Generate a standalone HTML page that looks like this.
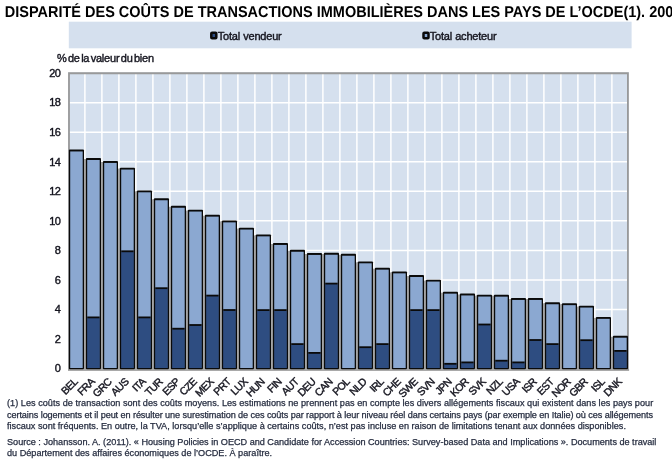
<!DOCTYPE html>
<html><head><meta charset="utf-8"><title>Chart</title>
<style>
html,body{margin:0;padding:0;background:#fff;}
body{width:672px;height:465px;overflow:hidden;position:relative;font-family:"Liberation Sans",sans-serif;color:#000;}
h1{position:absolute;left:4.8px;top:3.9px;margin:0;font-size:14.49px;line-height:16px;font-weight:bold;white-space:nowrap;letter-spacing:0;text-rendering:geometricPrecision;transform:scaleY(1.08);transform-origin:0 0;}
svg{position:absolute;left:0;top:0;}
.ax,.xl,.lg{font-family:"Liberation Sans",sans-serif;fill:#15151f;stroke:#15151f;stroke-width:0.4px;}
.ax{font-size:11px;letter-spacing:-0.8px;}
.xl{font-size:10.5px;letter-spacing:-0.6px;}
.lg{font-size:11px;letter-spacing:-0.12px;word-spacing:-1.5px;}
.note{position:absolute;left:7px;font-size:9.15px;line-height:12px;height:12px;white-space:nowrap;color:#262d40;-webkit-text-stroke:0.25px #262d40;}
</style></head><body>
<h1>DISPARITÉ DES COÛTS DE TRANSACTIONS IMMOBILIÈRES DANS LES PAYS DE L’OCDE(1). 2009</h1>
<svg width="672" height="465" viewBox="0 0 672 465">
<rect x="68.8" y="21.7" width="562.8" height="26.6" fill="#d5e0ee"/>
<rect x="68" y="72.3" width="561" height="296.2" fill="#d5e0ee"/>
<line x1="84.90" y1="73.25" x2="84.90" y2="368.5" stroke="#fff" stroke-width="1.5"/>
<line x1="101.90" y1="73.25" x2="101.90" y2="368.5" stroke="#fff" stroke-width="1.5"/>
<line x1="118.90" y1="73.25" x2="118.90" y2="368.5" stroke="#fff" stroke-width="1.5"/>
<line x1="135.90" y1="73.25" x2="135.90" y2="368.5" stroke="#fff" stroke-width="1.5"/>
<line x1="152.90" y1="73.25" x2="152.90" y2="368.5" stroke="#fff" stroke-width="1.5"/>
<line x1="169.90" y1="73.25" x2="169.90" y2="368.5" stroke="#fff" stroke-width="1.5"/>
<line x1="186.90" y1="73.25" x2="186.90" y2="368.5" stroke="#fff" stroke-width="1.5"/>
<line x1="203.90" y1="73.25" x2="203.90" y2="368.5" stroke="#fff" stroke-width="1.5"/>
<line x1="220.90" y1="73.25" x2="220.90" y2="368.5" stroke="#fff" stroke-width="1.5"/>
<line x1="237.90" y1="73.25" x2="237.90" y2="368.5" stroke="#fff" stroke-width="1.5"/>
<line x1="254.90" y1="73.25" x2="254.90" y2="368.5" stroke="#fff" stroke-width="1.5"/>
<line x1="271.90" y1="73.25" x2="271.90" y2="368.5" stroke="#fff" stroke-width="1.5"/>
<line x1="288.90" y1="73.25" x2="288.90" y2="368.5" stroke="#fff" stroke-width="1.5"/>
<line x1="305.90" y1="73.25" x2="305.90" y2="368.5" stroke="#fff" stroke-width="1.5"/>
<line x1="322.90" y1="73.25" x2="322.90" y2="368.5" stroke="#fff" stroke-width="1.5"/>
<line x1="339.90" y1="73.25" x2="339.90" y2="368.5" stroke="#fff" stroke-width="1.5"/>
<line x1="356.90" y1="73.25" x2="356.90" y2="368.5" stroke="#fff" stroke-width="1.5"/>
<line x1="373.90" y1="73.25" x2="373.90" y2="368.5" stroke="#fff" stroke-width="1.5"/>
<line x1="390.90" y1="73.25" x2="390.90" y2="368.5" stroke="#fff" stroke-width="1.5"/>
<line x1="407.90" y1="73.25" x2="407.90" y2="368.5" stroke="#fff" stroke-width="1.5"/>
<line x1="424.90" y1="73.25" x2="424.90" y2="368.5" stroke="#fff" stroke-width="1.5"/>
<line x1="441.90" y1="73.25" x2="441.90" y2="368.5" stroke="#fff" stroke-width="1.5"/>
<line x1="458.90" y1="73.25" x2="458.90" y2="368.5" stroke="#fff" stroke-width="1.5"/>
<line x1="475.90" y1="73.25" x2="475.90" y2="368.5" stroke="#fff" stroke-width="1.5"/>
<line x1="492.90" y1="73.25" x2="492.90" y2="368.5" stroke="#fff" stroke-width="1.5"/>
<line x1="509.90" y1="73.25" x2="509.90" y2="368.5" stroke="#fff" stroke-width="1.5"/>
<line x1="526.90" y1="73.25" x2="526.90" y2="368.5" stroke="#fff" stroke-width="1.5"/>
<line x1="543.90" y1="73.25" x2="543.90" y2="368.5" stroke="#fff" stroke-width="1.5"/>
<line x1="560.90" y1="73.25" x2="560.90" y2="368.5" stroke="#fff" stroke-width="1.5"/>
<line x1="577.90" y1="73.25" x2="577.90" y2="368.5" stroke="#fff" stroke-width="1.5"/>
<line x1="594.90" y1="73.25" x2="594.90" y2="368.5" stroke="#fff" stroke-width="1.5"/>
<line x1="611.90" y1="73.25" x2="611.90" y2="368.5" stroke="#fff" stroke-width="1.5"/>
<line x1="69.0" y1="339.05" x2="627.9" y2="339.05" stroke="#fff" stroke-width="1.5"/>
<line x1="69.0" y1="309.50" x2="627.9" y2="309.50" stroke="#fff" stroke-width="1.5"/>
<line x1="69.0" y1="279.95" x2="627.9" y2="279.95" stroke="#fff" stroke-width="1.5"/>
<line x1="69.0" y1="250.40" x2="627.9" y2="250.40" stroke="#fff" stroke-width="1.5"/>
<line x1="69.0" y1="220.85" x2="627.9" y2="220.85" stroke="#fff" stroke-width="1.5"/>
<line x1="69.0" y1="191.30" x2="627.9" y2="191.30" stroke="#fff" stroke-width="1.5"/>
<line x1="69.0" y1="161.75" x2="627.9" y2="161.75" stroke="#fff" stroke-width="1.5"/>
<line x1="69.0" y1="132.20" x2="627.9" y2="132.20" stroke="#fff" stroke-width="1.5"/>
<line x1="69.0" y1="102.65" x2="627.9" y2="102.65" stroke="#fff" stroke-width="1.5"/>
<path d="M69.0 369.5 V73.25 H627.9 V369.5" fill="none" stroke="#999" stroke-width="1.8"/>
<line x1="68" y1="369.9" x2="629.1" y2="369.9" stroke="#8c8c8c" stroke-width="1.5"/>
<line x1="84.95" y1="159.05" x2="84.95" y2="369.1" stroke="#a4a4a4" stroke-width="2.2"/>
<line x1="101.95" y1="162.00" x2="101.95" y2="369.1" stroke="#a4a4a4" stroke-width="2.2"/>
<line x1="118.95" y1="168.60" x2="118.95" y2="369.1" stroke="#a4a4a4" stroke-width="2.2"/>
<line x1="135.95" y1="191.35" x2="135.95" y2="369.1" stroke="#a4a4a4" stroke-width="2.2"/>
<line x1="152.95" y1="199.30" x2="152.95" y2="369.1" stroke="#a4a4a4" stroke-width="2.2"/>
<line x1="169.95" y1="206.80" x2="169.95" y2="369.1" stroke="#a4a4a4" stroke-width="2.2"/>
<line x1="186.95" y1="210.60" x2="186.95" y2="369.1" stroke="#a4a4a4" stroke-width="2.2"/>
<line x1="203.95" y1="215.70" x2="203.95" y2="369.1" stroke="#a4a4a4" stroke-width="2.2"/>
<line x1="220.95" y1="221.40" x2="220.95" y2="369.1" stroke="#a4a4a4" stroke-width="2.2"/>
<line x1="237.95" y1="228.60" x2="237.95" y2="369.1" stroke="#a4a4a4" stroke-width="2.2"/>
<line x1="254.95" y1="235.40" x2="254.95" y2="369.1" stroke="#a4a4a4" stroke-width="2.2"/>
<line x1="271.95" y1="244.00" x2="271.95" y2="369.1" stroke="#a4a4a4" stroke-width="2.2"/>
<line x1="288.95" y1="250.80" x2="288.95" y2="369.1" stroke="#a4a4a4" stroke-width="2.2"/>
<line x1="305.95" y1="254.00" x2="305.95" y2="369.1" stroke="#a4a4a4" stroke-width="2.2"/>
<line x1="322.95" y1="254.00" x2="322.95" y2="369.1" stroke="#a4a4a4" stroke-width="2.2"/>
<line x1="339.95" y1="254.80" x2="339.95" y2="369.1" stroke="#a4a4a4" stroke-width="2.2"/>
<line x1="356.95" y1="262.35" x2="356.95" y2="369.1" stroke="#a4a4a4" stroke-width="2.2"/>
<line x1="373.95" y1="268.70" x2="373.95" y2="369.1" stroke="#a4a4a4" stroke-width="2.2"/>
<line x1="390.95" y1="272.40" x2="390.95" y2="369.1" stroke="#a4a4a4" stroke-width="2.2"/>
<line x1="407.95" y1="276.05" x2="407.95" y2="369.1" stroke="#a4a4a4" stroke-width="2.2"/>
<line x1="424.95" y1="280.60" x2="424.95" y2="369.1" stroke="#a4a4a4" stroke-width="2.2"/>
<line x1="441.95" y1="292.70" x2="441.95" y2="369.1" stroke="#a4a4a4" stroke-width="2.2"/>
<line x1="458.95" y1="294.50" x2="458.95" y2="369.1" stroke="#a4a4a4" stroke-width="2.2"/>
<line x1="475.95" y1="295.60" x2="475.95" y2="369.1" stroke="#a4a4a4" stroke-width="2.2"/>
<line x1="492.95" y1="295.70" x2="492.95" y2="369.1" stroke="#a4a4a4" stroke-width="2.2"/>
<line x1="509.95" y1="299.00" x2="509.95" y2="369.1" stroke="#a4a4a4" stroke-width="2.2"/>
<line x1="526.95" y1="299.00" x2="526.95" y2="369.1" stroke="#a4a4a4" stroke-width="2.2"/>
<line x1="543.95" y1="303.30" x2="543.95" y2="369.1" stroke="#a4a4a4" stroke-width="2.2"/>
<line x1="560.95" y1="304.20" x2="560.95" y2="369.1" stroke="#a4a4a4" stroke-width="2.2"/>
<line x1="577.95" y1="306.60" x2="577.95" y2="369.1" stroke="#a4a4a4" stroke-width="2.2"/>
<line x1="594.95" y1="317.90" x2="594.95" y2="369.1" stroke="#a4a4a4" stroke-width="2.2"/>
<line x1="611.95" y1="336.75" x2="611.95" y2="369.1" stroke="#a4a4a4" stroke-width="2.2"/>
<rect x="68.90" y="149.55" width="15.10" height="219.65" rx="0.9" fill="#0a0a0a"/>
<rect x="70.20" y="151.45" width="12.50" height="216.55" fill="#8ba8d1"/>
<rect x="85.90" y="158.10" width="15.10" height="211.10" rx="0.9" fill="#0a0a0a"/>
<rect x="87.20" y="160.00" width="12.50" height="208.00" fill="#8ba8d1"/>
<rect x="87.20" y="316.50" width="12.50" height="51.50" fill="#0a0a0a"/>
<rect x="87.20" y="318.30" width="12.50" height="49.70" fill="#2e4d81"/>
<rect x="102.90" y="161.05" width="15.10" height="208.15" rx="0.9" fill="#0a0a0a"/>
<rect x="104.20" y="162.95" width="12.50" height="205.05" fill="#8ba8d1"/>
<rect x="119.90" y="167.65" width="15.10" height="201.55" rx="0.9" fill="#0a0a0a"/>
<rect x="121.20" y="169.55" width="12.50" height="198.45" fill="#8ba8d1"/>
<rect x="121.20" y="250.40" width="12.50" height="117.60" fill="#0a0a0a"/>
<rect x="121.20" y="252.20" width="12.50" height="115.80" fill="#2e4d81"/>
<rect x="136.90" y="190.40" width="15.10" height="178.80" rx="0.9" fill="#0a0a0a"/>
<rect x="138.20" y="192.30" width="12.50" height="175.70" fill="#8ba8d1"/>
<rect x="138.20" y="316.50" width="12.50" height="51.50" fill="#0a0a0a"/>
<rect x="138.20" y="318.30" width="12.50" height="49.70" fill="#2e4d81"/>
<rect x="153.90" y="198.35" width="15.10" height="170.85" rx="0.9" fill="#0a0a0a"/>
<rect x="155.20" y="200.25" width="12.50" height="167.75" fill="#8ba8d1"/>
<rect x="155.20" y="287.30" width="12.50" height="80.70" fill="#0a0a0a"/>
<rect x="155.20" y="289.10" width="12.50" height="78.90" fill="#2e4d81"/>
<rect x="170.90" y="205.85" width="15.10" height="163.35" rx="0.9" fill="#0a0a0a"/>
<rect x="172.20" y="207.75" width="12.50" height="160.25" fill="#8ba8d1"/>
<rect x="172.20" y="327.80" width="12.50" height="40.20" fill="#0a0a0a"/>
<rect x="172.20" y="329.60" width="12.50" height="38.40" fill="#2e4d81"/>
<rect x="187.90" y="209.65" width="15.10" height="159.55" rx="0.9" fill="#0a0a0a"/>
<rect x="189.20" y="211.55" width="12.50" height="156.45" fill="#8ba8d1"/>
<rect x="189.20" y="324.10" width="12.50" height="43.90" fill="#0a0a0a"/>
<rect x="189.20" y="325.90" width="12.50" height="42.10" fill="#2e4d81"/>
<rect x="204.90" y="214.75" width="15.10" height="154.45" rx="0.9" fill="#0a0a0a"/>
<rect x="206.20" y="216.65" width="12.50" height="151.35" fill="#8ba8d1"/>
<rect x="206.20" y="294.70" width="12.50" height="73.30" fill="#0a0a0a"/>
<rect x="206.20" y="296.50" width="12.50" height="71.50" fill="#2e4d81"/>
<rect x="221.90" y="220.45" width="15.10" height="148.75" rx="0.9" fill="#0a0a0a"/>
<rect x="223.20" y="222.35" width="12.50" height="145.65" fill="#8ba8d1"/>
<rect x="223.20" y="309.10" width="12.50" height="58.90" fill="#0a0a0a"/>
<rect x="223.20" y="310.90" width="12.50" height="57.10" fill="#2e4d81"/>
<rect x="238.90" y="227.65" width="15.10" height="141.55" rx="0.9" fill="#0a0a0a"/>
<rect x="240.20" y="229.55" width="12.50" height="138.45" fill="#8ba8d1"/>
<rect x="255.90" y="234.45" width="15.10" height="134.75" rx="0.9" fill="#0a0a0a"/>
<rect x="257.20" y="236.35" width="12.50" height="131.65" fill="#8ba8d1"/>
<rect x="257.20" y="309.20" width="12.50" height="58.80" fill="#0a0a0a"/>
<rect x="257.20" y="311.00" width="12.50" height="57.00" fill="#2e4d81"/>
<rect x="272.90" y="243.05" width="15.10" height="126.15" rx="0.9" fill="#0a0a0a"/>
<rect x="274.20" y="244.95" width="12.50" height="123.05" fill="#8ba8d1"/>
<rect x="274.20" y="309.20" width="12.50" height="58.80" fill="#0a0a0a"/>
<rect x="274.20" y="311.00" width="12.50" height="57.00" fill="#2e4d81"/>
<rect x="289.90" y="249.85" width="15.10" height="119.35" rx="0.9" fill="#0a0a0a"/>
<rect x="291.20" y="251.75" width="12.50" height="116.25" fill="#8ba8d1"/>
<rect x="291.20" y="343.20" width="12.50" height="24.80" fill="#0a0a0a"/>
<rect x="291.20" y="345.00" width="12.50" height="23.00" fill="#2e4d81"/>
<rect x="306.90" y="253.05" width="15.10" height="116.15" rx="0.9" fill="#0a0a0a"/>
<rect x="308.20" y="254.95" width="12.50" height="113.05" fill="#8ba8d1"/>
<rect x="308.20" y="352.00" width="12.50" height="16.00" fill="#0a0a0a"/>
<rect x="308.20" y="353.80" width="12.50" height="14.20" fill="#2e4d81"/>
<rect x="323.90" y="252.85" width="15.10" height="116.35" rx="0.9" fill="#0a0a0a"/>
<rect x="325.20" y="254.75" width="12.50" height="113.25" fill="#8ba8d1"/>
<rect x="325.20" y="282.70" width="12.50" height="85.30" fill="#0a0a0a"/>
<rect x="325.20" y="284.50" width="12.50" height="83.50" fill="#2e4d81"/>
<rect x="340.90" y="253.85" width="15.10" height="115.35" rx="0.9" fill="#0a0a0a"/>
<rect x="342.20" y="255.75" width="12.50" height="112.25" fill="#8ba8d1"/>
<rect x="357.90" y="261.40" width="15.10" height="107.80" rx="0.9" fill="#0a0a0a"/>
<rect x="359.20" y="263.30" width="12.50" height="104.70" fill="#8ba8d1"/>
<rect x="359.20" y="346.30" width="12.50" height="21.70" fill="#0a0a0a"/>
<rect x="359.20" y="348.10" width="12.50" height="19.90" fill="#2e4d81"/>
<rect x="374.90" y="267.75" width="15.10" height="101.45" rx="0.9" fill="#0a0a0a"/>
<rect x="376.20" y="269.65" width="12.50" height="98.35" fill="#8ba8d1"/>
<rect x="376.20" y="343.20" width="12.50" height="24.80" fill="#0a0a0a"/>
<rect x="376.20" y="345.00" width="12.50" height="23.00" fill="#2e4d81"/>
<rect x="391.90" y="271.45" width="15.10" height="97.75" rx="0.9" fill="#0a0a0a"/>
<rect x="393.20" y="273.35" width="12.50" height="94.65" fill="#8ba8d1"/>
<rect x="408.90" y="275.10" width="15.10" height="94.10" rx="0.9" fill="#0a0a0a"/>
<rect x="410.20" y="277.00" width="12.50" height="91.00" fill="#8ba8d1"/>
<rect x="410.20" y="309.20" width="12.50" height="58.80" fill="#0a0a0a"/>
<rect x="410.20" y="311.00" width="12.50" height="57.00" fill="#2e4d81"/>
<rect x="425.90" y="279.65" width="15.10" height="89.55" rx="0.9" fill="#0a0a0a"/>
<rect x="427.20" y="281.55" width="12.50" height="86.45" fill="#8ba8d1"/>
<rect x="427.20" y="309.20" width="12.50" height="58.80" fill="#0a0a0a"/>
<rect x="427.20" y="311.00" width="12.50" height="57.00" fill="#2e4d81"/>
<rect x="442.90" y="291.75" width="15.10" height="77.45" rx="0.9" fill="#0a0a0a"/>
<rect x="444.20" y="293.65" width="12.50" height="74.35" fill="#8ba8d1"/>
<rect x="444.20" y="362.90" width="12.50" height="5.10" fill="#0a0a0a"/>
<rect x="444.20" y="364.70" width="12.50" height="3.30" fill="#2e4d81"/>
<rect x="459.90" y="293.55" width="15.10" height="75.65" rx="0.9" fill="#0a0a0a"/>
<rect x="461.20" y="295.45" width="12.50" height="72.55" fill="#8ba8d1"/>
<rect x="461.20" y="361.50" width="12.50" height="6.50" fill="#0a0a0a"/>
<rect x="461.20" y="363.30" width="12.50" height="4.70" fill="#2e4d81"/>
<rect x="476.90" y="294.65" width="15.10" height="74.55" rx="0.9" fill="#0a0a0a"/>
<rect x="478.20" y="296.55" width="12.50" height="71.45" fill="#8ba8d1"/>
<rect x="478.20" y="323.60" width="12.50" height="44.40" fill="#0a0a0a"/>
<rect x="478.20" y="325.40" width="12.50" height="42.60" fill="#2e4d81"/>
<rect x="493.90" y="294.75" width="15.10" height="74.45" rx="0.9" fill="#0a0a0a"/>
<rect x="495.20" y="296.65" width="12.50" height="71.35" fill="#8ba8d1"/>
<rect x="495.20" y="359.80" width="12.50" height="8.20" fill="#0a0a0a"/>
<rect x="495.20" y="361.60" width="12.50" height="6.40" fill="#2e4d81"/>
<rect x="510.90" y="298.05" width="15.10" height="71.15" rx="0.9" fill="#0a0a0a"/>
<rect x="512.20" y="299.95" width="12.50" height="68.05" fill="#8ba8d1"/>
<rect x="512.20" y="361.50" width="12.50" height="6.50" fill="#0a0a0a"/>
<rect x="512.20" y="363.30" width="12.50" height="4.70" fill="#2e4d81"/>
<rect x="527.90" y="298.05" width="15.10" height="71.15" rx="0.9" fill="#0a0a0a"/>
<rect x="529.20" y="299.95" width="12.50" height="68.05" fill="#8ba8d1"/>
<rect x="529.20" y="339.10" width="12.50" height="28.90" fill="#0a0a0a"/>
<rect x="529.20" y="340.90" width="12.50" height="27.10" fill="#2e4d81"/>
<rect x="544.90" y="302.35" width="15.10" height="66.85" rx="0.9" fill="#0a0a0a"/>
<rect x="546.20" y="304.25" width="12.50" height="63.75" fill="#8ba8d1"/>
<rect x="546.20" y="343.20" width="12.50" height="24.80" fill="#0a0a0a"/>
<rect x="546.20" y="345.00" width="12.50" height="23.00" fill="#2e4d81"/>
<rect x="561.90" y="303.25" width="15.10" height="65.95" rx="0.9" fill="#0a0a0a"/>
<rect x="563.20" y="305.15" width="12.50" height="62.85" fill="#8ba8d1"/>
<rect x="578.90" y="305.65" width="15.10" height="63.55" rx="0.9" fill="#0a0a0a"/>
<rect x="580.20" y="307.55" width="12.50" height="60.45" fill="#8ba8d1"/>
<rect x="580.20" y="339.30" width="12.50" height="28.70" fill="#0a0a0a"/>
<rect x="580.20" y="341.10" width="12.50" height="26.90" fill="#2e4d81"/>
<rect x="595.90" y="316.95" width="15.10" height="52.25" rx="0.9" fill="#0a0a0a"/>
<rect x="597.20" y="318.85" width="12.50" height="49.15" fill="#8ba8d1"/>
<rect x="612.90" y="335.80" width="15.10" height="33.40" rx="0.9" fill="#0a0a0a"/>
<rect x="614.20" y="337.70" width="12.50" height="30.30" fill="#8ba8d1"/>
<rect x="614.20" y="350.00" width="12.50" height="18.00" fill="#0a0a0a"/>
<rect x="614.20" y="351.80" width="12.50" height="16.20" fill="#2e4d81"/>
<text x="60.0" y="372.40" text-anchor="end" class="ax">0</text>
<text x="60.0" y="342.85" text-anchor="end" class="ax">2</text>
<text x="60.0" y="313.30" text-anchor="end" class="ax">4</text>
<text x="60.0" y="283.75" text-anchor="end" class="ax">6</text>
<text x="60.0" y="254.20" text-anchor="end" class="ax">8</text>
<text x="60.0" y="224.65" text-anchor="end" class="ax">10</text>
<text x="60.0" y="195.10" text-anchor="end" class="ax">12</text>
<text x="60.0" y="165.55" text-anchor="end" class="ax">14</text>
<text x="60.0" y="136.00" text-anchor="end" class="ax">16</text>
<text x="60.0" y="106.45" text-anchor="end" class="ax">18</text>
<text x="60.0" y="76.90" text-anchor="end" class="ax">20</text>
<text transform="translate(78.30,382.5) rotate(-45)" text-anchor="end" class="xl">BEL</text>
<text transform="translate(95.30,382.5) rotate(-45)" text-anchor="end" class="xl">FRA</text>
<text transform="translate(112.30,382.5) rotate(-45)" text-anchor="end" class="xl">GRC</text>
<text transform="translate(129.30,382.5) rotate(-45)" text-anchor="end" class="xl">AUS</text>
<text transform="translate(146.30,382.5) rotate(-45)" text-anchor="end" class="xl">ITA</text>
<text transform="translate(163.30,382.5) rotate(-45)" text-anchor="end" class="xl">TUR</text>
<text transform="translate(180.30,382.5) rotate(-45)" text-anchor="end" class="xl">ESP</text>
<text transform="translate(197.30,382.5) rotate(-45)" text-anchor="end" class="xl">CZE</text>
<text transform="translate(214.30,382.5) rotate(-45)" text-anchor="end" class="xl">MEX</text>
<text transform="translate(231.30,382.5) rotate(-45)" text-anchor="end" class="xl">PRT</text>
<text transform="translate(248.30,382.5) rotate(-45)" text-anchor="end" class="xl">LUX</text>
<text transform="translate(265.30,382.5) rotate(-45)" text-anchor="end" class="xl">HUN</text>
<text transform="translate(282.30,382.5) rotate(-45)" text-anchor="end" class="xl">FIN</text>
<text transform="translate(299.30,382.5) rotate(-45)" text-anchor="end" class="xl">AUT</text>
<text transform="translate(316.30,382.5) rotate(-45)" text-anchor="end" class="xl">DEU</text>
<text transform="translate(333.30,382.5) rotate(-45)" text-anchor="end" class="xl">CAN</text>
<text transform="translate(350.30,382.5) rotate(-45)" text-anchor="end" class="xl">POL</text>
<text transform="translate(367.30,382.5) rotate(-45)" text-anchor="end" class="xl">NLD</text>
<text transform="translate(384.30,382.5) rotate(-45)" text-anchor="end" class="xl">IRL</text>
<text transform="translate(401.30,382.5) rotate(-45)" text-anchor="end" class="xl">CHE</text>
<text transform="translate(418.30,382.5) rotate(-45)" text-anchor="end" class="xl">SWE</text>
<text transform="translate(435.30,382.5) rotate(-45)" text-anchor="end" class="xl">SVN</text>
<text transform="translate(452.30,382.5) rotate(-45)" text-anchor="end" class="xl">JPN</text>
<text transform="translate(469.30,382.5) rotate(-45)" text-anchor="end" class="xl">KOR</text>
<text transform="translate(486.30,382.5) rotate(-45)" text-anchor="end" class="xl">SVK</text>
<text transform="translate(503.30,382.5) rotate(-45)" text-anchor="end" class="xl">NZL</text>
<text transform="translate(520.30,382.5) rotate(-45)" text-anchor="end" class="xl">USA</text>
<text transform="translate(537.30,382.5) rotate(-45)" text-anchor="end" class="xl">ISR</text>
<text transform="translate(554.30,382.5) rotate(-45)" text-anchor="end" class="xl">EST</text>
<text transform="translate(571.30,382.5) rotate(-45)" text-anchor="end" class="xl">NOR</text>
<text transform="translate(588.30,382.5) rotate(-45)" text-anchor="end" class="xl">GBR</text>
<text transform="translate(605.30,382.5) rotate(-45)" text-anchor="end" class="xl">ISL</text>
<text transform="translate(622.30,382.5) rotate(-45)" text-anchor="end" class="xl">DNK</text>
<rect x="211.3" y="32.8" width="5.0" height="5.5" rx="0.8" fill="#2e4d81" stroke="#0a0a0a" stroke-width="2.5"/>
<text x="217.8" y="40.0" class="lg" style="letter-spacing:-0.2px;word-spacing:0.3px">Total vendeur</text>
<rect x="423.5" y="32.8" width="5.0" height="5.5" rx="0.8" fill="#8ba8d1" stroke="#0a0a0a" stroke-width="2.5"/>
<text x="429.8" y="40.0" class="lg" style="letter-spacing:-0.2px;word-spacing:0.3px">Total acheteur</text>
<text x="57" y="61.8" class="lg" style="letter-spacing:-0.2px">% de la valeur du bien</text>
</svg>
<div class="note" id="n1" style="top:396.7px;letter-spacing:0.026px">(1) Les coûts de transaction sont des coûts moyens. Les estimations ne prennent pas en compte les divers allégements fiscaux qui existent dans les pays pour</div>
<div class="note" id="n2" style="top:409.4px;letter-spacing:-0.088px">certains logements et il peut en résulter une surestimation de ces coûts par rapport à leur niveau réel dans certains pays (par exemple en Italie) où ces allégements</div>
<div class="note" id="n3" style="top:419.9px;letter-spacing:0.006px">fiscaux sont fréquents. En outre, la TVA, lorsqu’elle s’applique à certains coûts, n’est pas incluse en raison de limitations tenant aux données disponibles.</div>
<div class="note" id="s1" style="top:436px;letter-spacing:-0.011px">Source : Johansson. A. (2011). « Housing Policies in OECD and Candidate for Accession Countries: Survey-based Data and Implications ». Documents de travail</div>
<div class="note" id="s2" style="top:446.7px">du Département des affaires économiques de l’OCDE. À paraître.</div>
</body></html>
